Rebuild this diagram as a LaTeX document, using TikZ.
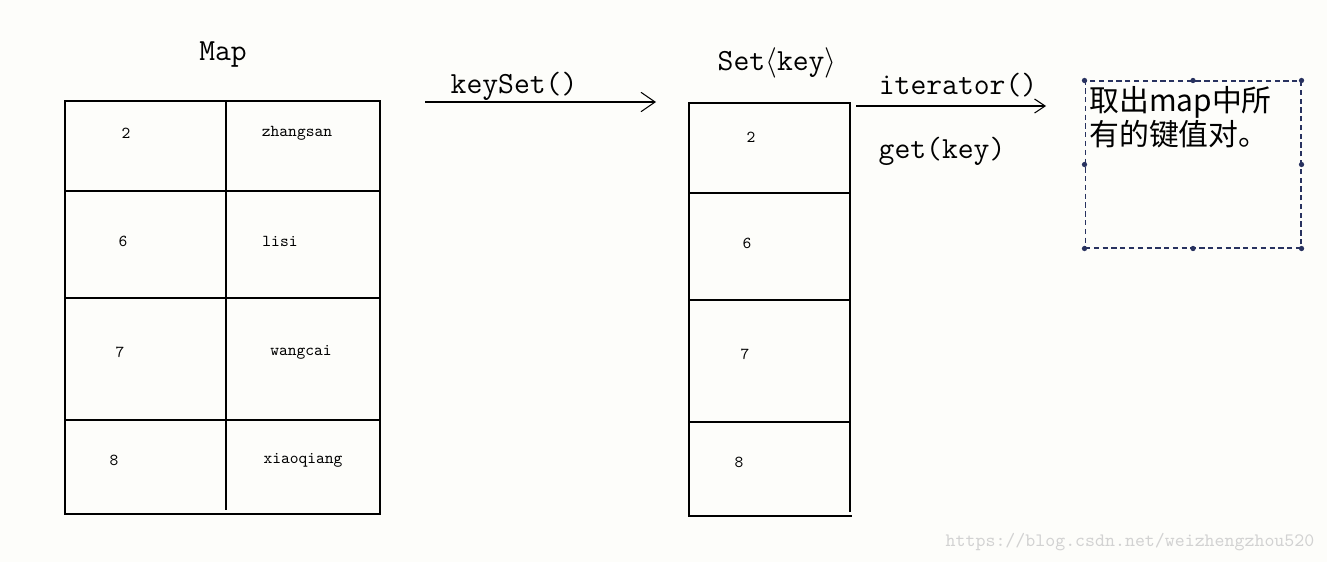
\documentclass[tikz,border=0pt]{standalone}
\usepackage{fontspec}
\newfontfamily\cjk{Noto Sans CJK SC}
\usetikzlibrary{arrows.meta}
\definecolor{navy}{RGB}{40,50,95}
\definecolor{paper}{RGB}{253,253,250}

\begin{document}
\begin{tikzpicture}[x=0.02cm,y=-0.02cm]
	\tikzset{every node/.style={inner sep=0pt}}
	\tikzset{title/.style={font=\ttfamily\fontsize{17.5}{20}\selectfont}}
	\tikzset{entry/.style={font=\ttfamily\fontsize{9.5}{11}\selectfont}}
	\tikzset{frame/.style={draw,line width=0.6pt}}
	\tikzset{callarrow/.style={line width=0.6pt,-{Straight Barb[length=8pt,width=11pt]}}}
	\tikzset{selbox/.style={draw=navy,dash pattern=on 3pt off 2pt,line width=0.6pt,minimum width=4.32cm,minimum height=3.34cm}}
	\tikzset{handle/.style={fill=navy,circle,minimum size=3pt}}
	\fill[paper] (0,0) rectangle (1327,562);
	\useasboundingbox (0,0) rectangle (1327,562);
	% Map
	\node[title] (maptitle) at (223,55) {Map};
	\draw[frame] (65,101) rectangle (380,514);
	\foreach \y in {191,298,420} \draw[frame] (65,\y) -- (380,\y);
	\draw[frame] (226,101) -- (226,510);
	\foreach \n/\kx/\k/\vx/\v/\y in {a/126/2/297/zhangsan/133, b/123/6/280/lisi/241, c/120/7/301/wangcai/352, d/114/8/303/xiaoqiang/460}
		{\node[entry] (mk\n) at (\kx,\y) {\k};
		 \node[entry] (mv\n) at (\vx,\y) {\v};}
	% keySet
	\coordinate (ks0) at (425,102);
	\coordinate (ks1) at (656,102);
	\draw[callarrow] (ks0) -- (ks1);
	\node[title] (kslabel) at (514,86) {keySet()};
	% Set<key>
	\node[title] (settitle) at (777,63) {Set$\langle$key$\rangle$};
	\draw[frame] (850,512) -- (850,103) -- (689,103) -- (689,516) -- (852,516);
	\foreach \y in {193,300,422} \draw[frame] (689,\y) -- (850,\y);
	\foreach \n/\kx/\k/\y in {a/751/2/137, b/747/6/243, c/745/7/354, d/739/8/462}
		\node[entry] (sk\n) at (\kx,\y) {\k};
	% iterator
	\coordinate (it0) at (856,106);
	\coordinate (it1) at (1046,106);
	\draw[line width=0.6pt,-{Straight Barb[length=6pt,width=8pt]}] (it0) -- (it1);
	\node[title] (itlabel) at (958,85) {iterator()};
	\node[title] (getlabel) at (942,151) {get(key)};
	% note
	\node[selbox] (sel) at (1193,164.5) {};
	\foreach \a in {north west,north,north east,east,south east,south,south west,west}
		\node[handle] at (sel.\a) {};
	\node[anchor=north west,align=left,font=\cjk\fontsize{17}{17.8}\selectfont] (note) at (1089,86) {取出map中所\\有的键值对。};
	% watermark
	\node[font=\ttfamily\fontsize{10.8}{12}\selectfont,text=gray!35] (wm) at (1130,542) {https://blog.csdn.net/weizhengzhou520};
\end{tikzpicture}
\end{document}
